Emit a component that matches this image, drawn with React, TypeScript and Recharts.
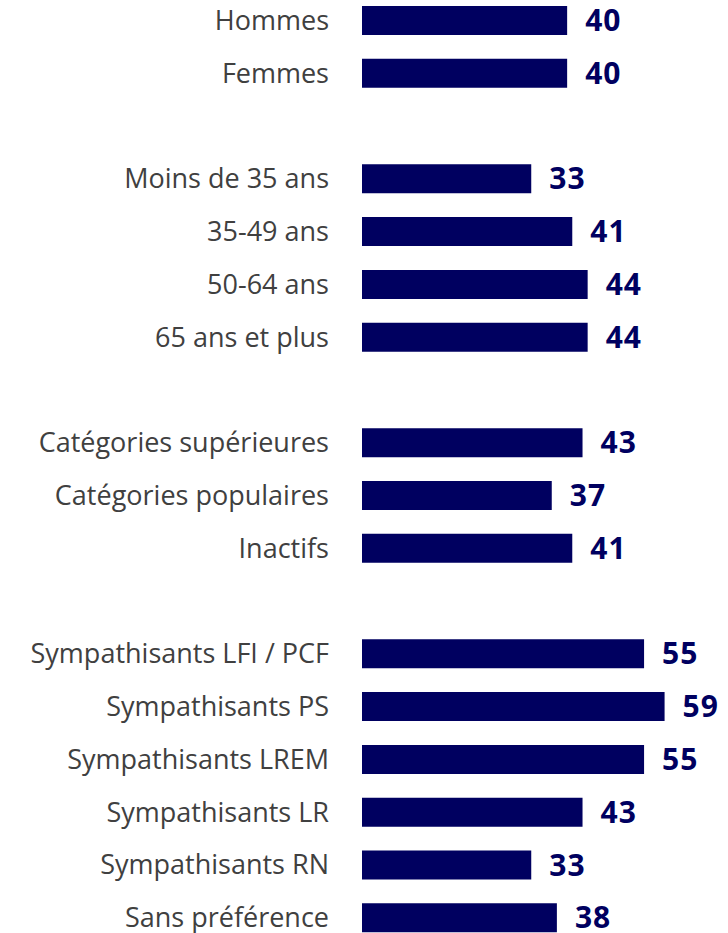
import { BarChart, Bar, XAxis, YAxis, LabelList } from 'recharts';

const categories = [
  'Hommes',
  'Femmes',
  '',
  'Moins de 35 ans',
  '35-49 ans',
  '50-64 ans',
  '65 ans et plus',
  '',
  'Catégories supérieures',
  'Catégories populaires',
  'Inactifs',
  '',
  'Sympathisants LFI / PCF',
  'Sympathisants PS',
  'Sympathisants LREM',
  'Sympathisants LR',
  'Sympathisants RN',
  'Sans préférence',
];

const values: (number | null)[] = [40, 40, null, 33, 41, 44, 44, null, 43, 37, 41, null, 55, 59, 55, 43, 33, 38];

const data = categories.map((name, i) => ({ id: `row-${i}`, name, value: values[i] }));

const NAVY = '#000060';

const App = () => {
  return (
    <div style={{ position: 'fixed', left: 0, top: 0, width: 728, height: 933, overflow: 'hidden', background: '#fff' }}>
      <div style={{ position: 'relative', top: -6 }}>
        <BarChart
          width={728}
          height={950}
          data={data}
          layout="vertical"
          margin={{ top: 0, right: 7, left: 0, bottom: 0 }}
        >
          <XAxis type="number" domain={[0, 70]} hide />
          <YAxis
            type="category"
            dataKey="id"
            width={362}
            axisLine={false}
            tickLine={false}
            tickSize={0}
            tickMargin={33}
            interval={0}
            tickFormatter={(v: string) => data.find((d) => d.id === v)?.name ?? ''}
            tick={{ fill: '#404040', fontSize: 27, fontFamily: 'Open Sans' }}
          />
          <Bar dataKey="value" fill={NAVY} barSize={29} isAnimationActive={false}>
            <LabelList
              dataKey="value"
              position="right"
              offset={18}
              formatter={(v: any) => (v == null ? '' : v)}
              style={{ fill: NAVY, fontSize: 30, fontWeight: 700, fontFamily: 'Open Sans', letterSpacing: 1 }}
            />
          </Bar>
        </BarChart>
      </div>
    </div>
  );
};

export default App;
